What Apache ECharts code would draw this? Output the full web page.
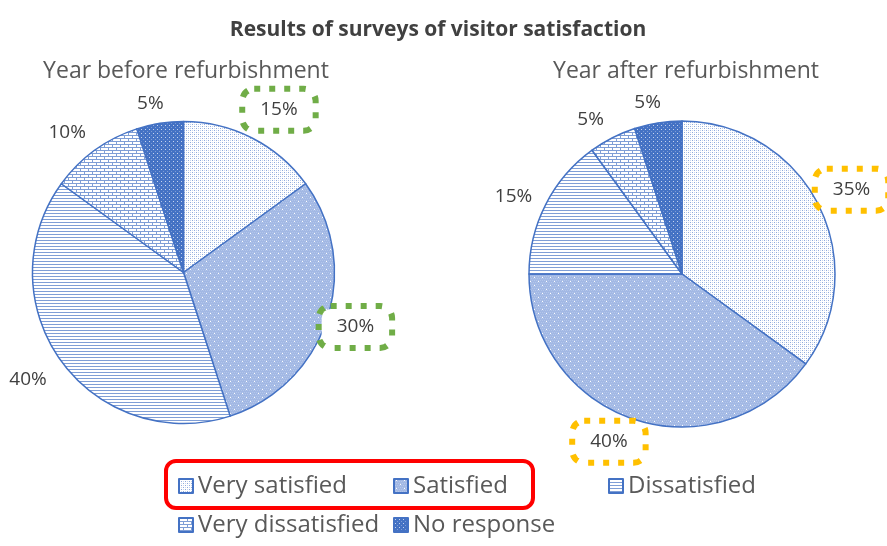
<!DOCTYPE html>
<html>
<head>
<meta charset="utf-8">
<script src="https://cdn.jsdelivr.net/npm/echarts@6/dist/echarts.min.js"></script>
<style>
html,body{margin:0;padding:0;background:#fff;}
#chart{width:887px;height:546px;}
</style>
</head>
<body>
<div id="chart"></div>
<script>
// ---- data ----
const categories = ['Very satisfied', 'Satisfied', 'Dissatisfied', 'Very dissatisfied', 'No response'];
const beforeValues = [15, 30, 40, 10, 5];
const afterValues = [35, 40, 15, 5, 5];
const chartTitle = 'Results of surveys of visitor satisfaction';
const pieTitles = ['Year before refurbishment', 'Year after refurbishment'];

// ---- styling ----
const FONT = '"Open Sans", "Noto Sans", sans-serif';
const BLUE = '#4472c4';

function pattern(w, h, draw) {
  const c = document.createElement('canvas');
  c.width = w; c.height = h;
  const ctx = c.getContext('2d');
  draw(ctx);
  return { image: c, repeat: 'repeat' };
}
function px(ctx, col, pts) { ctx.fillStyle = col; pts.forEach(p => ctx.fillRect(p[0], p[1], p[2] || 1, p[3] || 1)); }

const fills = [
  // very satisfied: fine light dots
  pattern(4, 4, ctx => {
    px(ctx, '#ffffff', [[0, 0, 4, 4]]);
    px(ctx, '#8faadc', [[0, 0], [2, 2]]);
    px(ctx, '#c9d6ef', [[2, 0], [0, 2]]);
  }),
  // satisfied: medium blue with white dots
  pattern(8, 8, ctx => {
    px(ctx, '#a2b8e4', [[0, 0, 8, 8]]);
    px(ctx, '#b3c6ea', [[0, 0], [2, 0], [4, 0], [6, 0], [1, 2], [3, 2], [5, 2], [7, 2], [0, 4], [2, 4], [4, 4], [6, 4], [1, 6], [3, 6], [5, 6], [7, 6]]);
    px(ctx, '#ffffff', [[2, 1], [6, 5]]);
  }),
  // dissatisfied: horizontal lines
  pattern(4, 3, ctx => {
    px(ctx, '#ffffff', [[0, 0, 4, 3]]);
    px(ctx, '#7f9ed6', [[0, 0, 4, 1]]);
  }),
  // very dissatisfied: bricks
  pattern(8, 6, ctx => {
    px(ctx, '#ffffff', [[0, 0, 8, 6]]);
    px(ctx, '#7f9ed6', [[0, 0, 8, 1], [0, 3, 8, 1], [0, 0, 1, 3], [4, 3, 1, 3]]);
  }),
  // no response: dark blue with white dots
  pattern(4, 4, ctx => {
    px(ctx, BLUE, [[0, 0, 4, 4]]);
    px(ctx, '#c5d3ee', [[1, 1]]);
    px(ctx, '#7d9bd5', [[3, 3]]);
  })
];

const boxGreen = '#70ad47';
const boxYellow = '#ffc000';
// which labels get a dotted box (by pie, by index)
const boxed = [{ 0: boxGreen, 1: boxGreen }, { 0: boxYellow, 1: boxYellow }];
// small label nudges (best-fit placement), px
const labelNudge = [
  [[11, 3], [-5, -3], [-5, -2], [-7, 11], [-4, 15]],
  [[2, 1], [-15, -11], [-1, 8], [-6, 13], [-5, 14]]
];

const centers = [[183.5, 272.5], [682, 274]];
const radii = [151, 153];

function pieSeries(values, p) {
  return {
    type: 'pie',
    center: centers[p],
    radius: radii[p],
    startAngle: 90,
    clockwise: true,
    silent: true,
    label: { show: false },
    labelLine: { show: false },
    itemStyle: { borderColor: BLUE, borderWidth: 1.5 },
    data: values.map((v, i) => ({ name: categories[i], value: v, itemStyle: { color: fills[i] } }))
  };
}
function labelSeries(values, p) {
  return {
    type: 'pie',
    center: centers[p],
    radius: [radii[p], radii[p] + 64],
    startAngle: 90,
    clockwise: true,
    silent: true,
    itemStyle: { color: 'rgba(0,0,0,0)' },
    labelLine: { show: false },
    data: values.map((v, i) => {
      const b = boxed[p][i];
      const lab = {
        show: true, position: 'inside', formatter: '{c}%',
        offset: labelNudge[p][i],
        fontFamily: FONT, fontSize: 19, lineHeight: 22, color: '#404040'
      };
      if (b) Object.assign(lab, {
        borderColor: b, borderWidth: 6, borderType: [6, 9], borderRadius: 9,
        padding: [7, 15, 7, 15], backgroundColor: '#fff'
      });
      return { name: 'lbl' + p + '_' + i, value: v, label: lab };
    })
  };
}

const legendCols = [178, 393, 608];
const legendRows = [474, 513];

const chart = echarts.init(document.getElementById('chart'), null, { renderer: 'canvas' });
chart.setOption({
  backgroundColor: '#fff',
  animation: false,
  title: [
    { text: chartTitle, left: 433, textAlign: 'center', top: 15, textStyle: { fontFamily: FONT, fontSize: 21, fontWeight: 'bold', color: '#404040' } },
    { text: pieTitles[0], left: 181, textAlign: 'center', top: 55, textStyle: { fontFamily: FONT, fontSize: 23, fontWeight: 'normal', color: '#595959' } },
    { text: pieTitles[1], left: 681, textAlign: 'center', top: 55, textStyle: { fontFamily: FONT, fontSize: 23, fontWeight: 'normal', color: '#595959' } }
  ],
  legend: categories.map((c, i) => ({
    data: [c],
    left: legendCols[i % 3],
    top: legendRows[Math.floor(i / 3)],
    icon: 'rect',
    itemWidth: 14, itemHeight: 14,
    itemGap: 6,
    selectedMode: false,
    padding: 0,
    textStyle: { fontFamily: FONT, fontSize: 24, color: '#595959' }
  })),
  graphic: [{
    type: 'rect', z: 100,
    shape: { x: 166, y: 461, width: 367, height: 47, r: 10 },
    style: { fill: 'none', stroke: '#ff0000', lineWidth: 4 }
  }],
  series: [
    pieSeries(beforeValues, 0), pieSeries(afterValues, 1),
    labelSeries(beforeValues, 0), labelSeries(afterValues, 1)
  ]
});
</script>
</body>
</html>
